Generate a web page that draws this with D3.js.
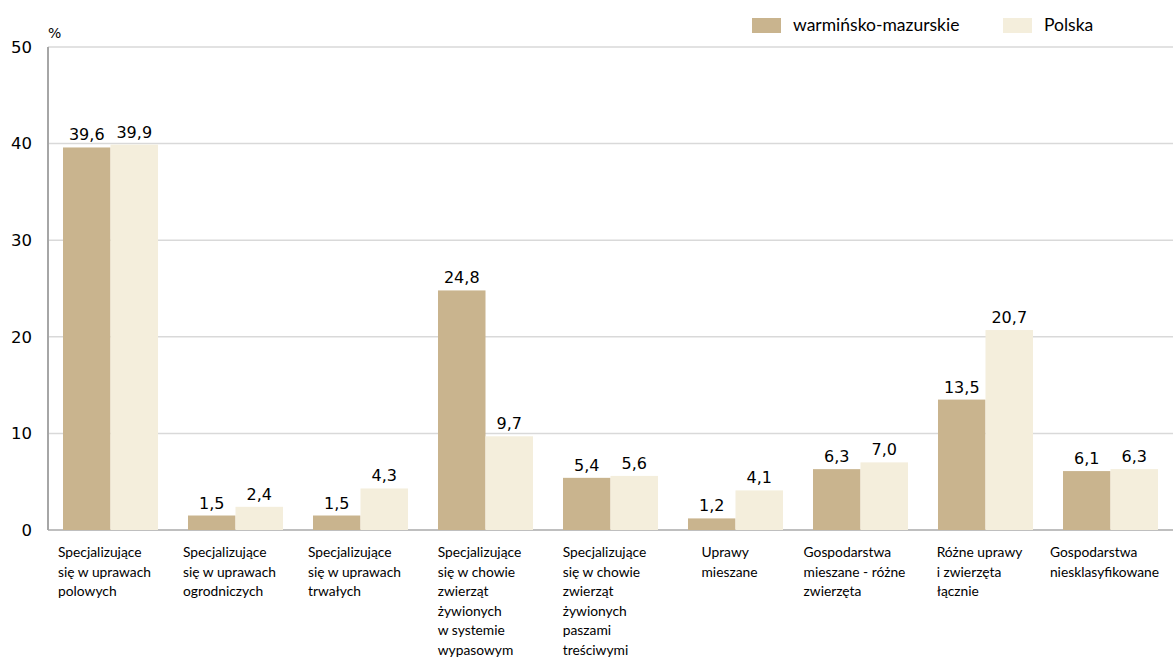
<!DOCTYPE html>
<html>
<head>
<meta charset="utf-8">
<script src="https://cdn.jsdelivr.net/npm/d3@7"></script>
<style>
  body { margin: 0; background: #fff; }
  svg { display: block; }
</style>
</head>
<body>
<svg width="1174" height="666"></svg>
<script>
// data
var categories = [
  ["Specjalizujące", "się w uprawach", "polowych"],
  ["Specjalizujące", "się w uprawach", "ogrodniczych"],
  ["Specjalizujące", "się w uprawach", "trwałych"],
  ["Specjalizujące", "się w chowie", "zwierząt", "żywionych", "w systemie", "wypasowym"],
  ["Specjalizujące", "się w chowie", "zwierząt", "żywionych", "paszami", "treściwymi"],
  ["Uprawy", "mieszane"],
  ["Gospodarstwa", "mieszane - różne", "zwierzęta"],
  ["Różne uprawy", "i zwierzęta", "łącznie"],
  ["Gospodarstwa", "niesklasyfikowane"]
];
var seriesNames = ["warmińsko-mazurskie", "Polska"];
var warminsko = [39.6, 1.5, 1.5, 24.8, 5.4, 1.2, 6.3, 13.5, 6.1];
var polska = [39.9, 2.4, 4.3, 9.7, 5.6, 4.1, 7.0, 20.7, 6.3];
var yTicks = [0, 10, 20, 30, 40, 50];
var colors = ["#c9b48e", "#f4eedc"];

var svg = d3.select("svg"),
    margin = {left: 48, right: 1, top: 47, bottom: 136},
    width = 1174 - margin.left - margin.right,
    height = 666 - margin.top - margin.bottom;

var g = svg.append("g").attr("transform", "translate(" + margin.left + "," + margin.top + ")");

var x = d3.scaleBand().domain(d3.range(categories.length)).range([0, width]).paddingInner(0.24).paddingOuter(0.12);
var xs = d3.scaleBand().domain([0, 1]).range([0, x.bandwidth()]);
var y = d3.scaleLinear().domain([0, 50]).range([height, 0]);

var fmt = function(v) { return d3.format(".1f")(v).replace(".", ","); };

// gridlines
g.append("g").selectAll("line")
  .data(yTicks)
  .enter().append("line")
    .attr("x1", 0).attr("x2", width)
    .attr("y1", function(d) { return y(d); })
    .attr("y2", function(d) { return y(d); })
    .attr("stroke", function(d) { return d == 0 ? "#bfbfbf" : "#d9d9d9"; })
    .attr("stroke-width", function(d) { return d == 0 ? 2 : 1.5; });

// y axis
var yAxis = g.append("g").call(d3.axisLeft(y).tickValues(yTicks).tickSize(0).tickPadding(16));
yAxis.select(".domain").remove();
yAxis.selectAll("text")
  .attr("font-family", "DejaVu Sans")
  .attr("font-size", 16.5)
  .attr("fill", "#000");
g.append("line")
  .attr("x1", 0).attr("x2", 0)
  .attr("y1", 0).attr("y2", height)
  .attr("stroke", "#a6a6a6").attr("stroke-width", 2);

g.append("text")
  .attr("x", 0).attr("y", -9)
  .attr("font-family", "DejaVu Sans").attr("font-size", 14)
  .text("%");

// bars
var series = [warminsko, polska];
series.forEach(function(vals, s) {
  var sg = g.append("g");
  sg.selectAll("rect")
    .data(vals)
    .enter().append("rect")
      .attr("x", function(d, i) { return x(i) + xs(s); })
      .attr("y", function(d) { return y(d); })
      .attr("width", xs.bandwidth())
      .attr("height", function(d) { return height - y(d); })
      .attr("fill", colors[s]);
  sg.selectAll("text")
    .data(vals)
    .enter().append("text")
      .attr("x", function(d, i) { return x(i) + xs(s) + xs.bandwidth() / 2; })
      .attr("y", function(d) { return y(d) - 7; })
      .attr("text-anchor", "middle")
      .attr("font-family", "DejaVu Sans")
      .attr("font-size", 16)
      .attr("fill", "#000")
      .text(fmt);
});

// category labels
var labels = g.append("g").selectAll("text")
  .data(categories)
  .enter().append("text")
    .attr("font-family", "Lato, 'Open Sans', sans-serif")
    .attr("font-size", 13.8)
    .attr("fill", "#000");
labels.each(function(lines, i) {
  var t = d3.select(this);
  lines.forEach(function(l, k) {
    t.append("tspan").attr("x", 0).attr("y", height + 27 + k * 19.5).text(l);
  });
  var w = this.getBBox().width;
  var cx = x(i) + x.bandwidth() / 2 - w / 2 - 6;
  cx = Math.min(cx, width - w);
  t.selectAll("tspan").attr("x", cx);
});

// legend
var legend = svg.append("g").attr("transform", "translate(752,18)");
var lx = [0, 251];
seriesNames.forEach(function(name, s) {
  legend.append("rect")
    .attr("x", lx[s]).attr("y", 0)
    .attr("width", 29).attr("height", 15)
    .attr("fill", colors[s]);
  legend.append("text")
    .attr("x", lx[s] + 41).attr("y", 13)
    .attr("font-family", "Lato, 'Open Sans', sans-serif")
    .attr("font-size", 17.5)
    .text(name);
});
</script>
</body>
</html>
